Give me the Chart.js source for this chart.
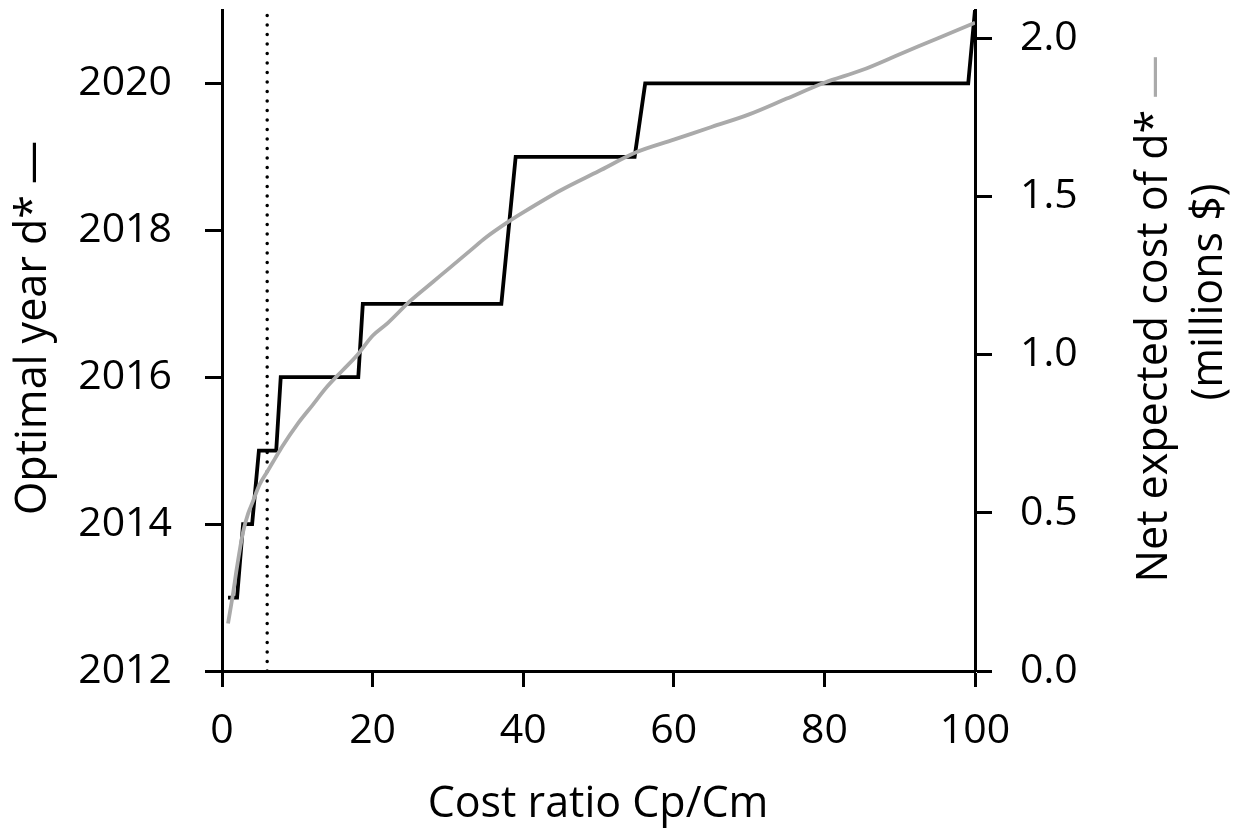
<!DOCTYPE html>
<html>
<head>
<meta charset="utf-8">
<script src="https://cdn.jsdelivr.net/npm/chart.js@4/dist/chart.umd.min.js"></script>
<style>
  html, body { margin: 0; padding: 0; background: #fff; }
  canvas { display: block; }
</style>
</head>
<body>
<canvas id="chart" width="1241" height="834"></canvas>
<script>
// black step line: optimal year d* (left axis)
var stepX = [0.8, 2.0, 2.8, 4.0, 4.9, 7.2, 7.8, 18.1, 18.7, 37.1, 39.0, 54.8, 56.2, 99.1, 100];
var stepYear = [2013, 2013, 2014, 2014, 2015, 2015, 2016, 2016, 2017, 2017, 2019, 2019, 2020, 2020, 2021];

// grey curve: net expected cost of d*, millions $ (right axis)
var costX = [0.8, 1.5, 2.0, 2.8, 3.5, 4.0, 5.0, 6.0, 7.0, 8.0, 10, 12, 14, 16, 18, 20, 22, 25, 28, 30, 33, 35, 38, 40, 45, 50, 55, 60, 65, 70, 75, 80, 85, 90, 95, 100];
var costVal = [0.15, 0.25, 0.33, 0.44, 0.50, 0.53, 0.59, 0.63, 0.67, 0.71, 0.78, 0.84, 0.90, 0.95, 1.00, 1.06, 1.10, 1.17, 1.23, 1.27, 1.33, 1.37, 1.42, 1.45, 1.52, 1.58, 1.64, 1.68, 1.72, 1.76, 1.81, 1.86, 1.90, 1.95, 2.00, 2.05];

// dotted reference line
var refX = [6, 6];
var refYear = [2012, 2021];

var xTicks = [0, 20, 40, 60, 80, 100];
var yearTicks = [2012, 2014, 2016, 2018, 2020];
var costTicks = [0.0, 0.5, 1.0, 1.5, 2.0];

var fontName = '"Open Sans", "DejaVu Sans", sans-serif';
var grey = '#aaaaaa';

function toPoints(xs, ys) {
    var pts = [];
    for (var i = 0; i < xs.length; i++) pts.push({ x: xs[i], y: ys[i] });
    return pts;
}

function keepTicks(list) {
    return function (scale) {
        scale.ticks = list.map(function (v) { return { value: v }; });
    };
}

// fixed box sizes, no extra room for the end labels
function fixSize(w, h) {
    return function (s) {
        if (w) s.width = w;
        if (h) s.height = h;
        s.paddingTop = 0;
        s.paddingBottom = 0;
        s.paddingLeft = 0;
        s.paddingRight = 0;
    };
}

var titlePlugin = {
    id: 'titles',
    afterDraw: function (chart) {
        var ctx = chart.ctx;
        ctx.save();
        ctx.font = '43px ' + fontName;
        ctx.fillStyle = '#000';
        ctx.textBaseline = 'alphabetic';

        // bottom
        ctx.textAlign = 'center';
        ctx.fillText('Cost ratio Cp/Cm', 598, 817);

        // left
        ctx.save();
        ctx.translate(46, 328);
        ctx.rotate(-Math.PI / 2);
        ctx.fillText('Optimal year d* \u2014', 0, 0);
        ctx.restore();

        // right, first line with a grey dash
        var t1 = 'Net expected cost of d* ';
        var w1 = ctx.measureText(t1).width;
        var w2 = ctx.measureText('\u2014').width;
        ctx.save();
        ctx.translate(1167, 319);
        ctx.rotate(-Math.PI / 2);
        ctx.textAlign = 'left';
        ctx.fillText(t1, -(w1 + w2) / 2, 0);
        ctx.fillStyle = grey;
        ctx.fillText('\u2014', -(w1 + w2) / 2 + w1, 0);
        ctx.restore();

        // right, second line
        ctx.save();
        ctx.translate(1222, 292);
        ctx.rotate(-Math.PI / 2);
        ctx.textAlign = 'center';
        ctx.fillText('(millions $)', 0, 0);
        ctx.restore();

        ctx.restore();
    }
};

var tickFont = { family: fontName, size: 41 };

new Chart(document.getElementById('chart'), {
    type: 'line',
    data: {
        datasets: [{
            label: 'cost',
            data: toPoints(costX, costVal),
            yAxisID: 'y2',
            borderColor: grey,
            borderWidth: 3.8,
            pointRadius: 0,
            tension: 0.3,
            cubicInterpolationMode: 'monotone',
            order: 0
        }, {
            label: 'year',
            data: toPoints(stepX, stepYear),
            yAxisID: 'y',
            borderColor: '#000',
            borderWidth: 3.8,
            pointRadius: 0,
            tension: 0,
            order: 1
        }, {
            label: 'ref',
            data: toPoints(refX, refYear),
            yAxisID: 'y',
            borderColor: '#000',
            borderWidth: 3.5,
            borderDash: [0.1, 9.4],
            borderCapStyle: 'round',
            pointRadius: 0,
            order: 2
        }]
    },
    options: {
        responsive: false,
        animation: false,
        layout: { padding: { top: 10, left: 0, right: 0, bottom: 0 } },
        plugins: { legend: { display: false }, tooltip: { enabled: false } },
        scales: {
            x: {
                type: 'linear',
                min: 0,
                max: 100,
                afterBuildTicks: keepTicks(xTicks),
                afterFit: fixSize(0, 163),
                border: { color: '#000', width: 3 },
                grid: { drawOnChartArea: false, color: '#000', tickLength: 16, tickWidth: 3 },
                ticks: { color: '#000', font: tickFont, padding: 20, maxRotation: 0 }
            },
            y: {
                position: 'left',
                min: 2012,
                max: 2021,
                afterBuildTicks: keepTicks(yearTicks),
                afterFit: fixSize(222, 0),
                border: { color: '#000', width: 3 },
                grid: { drawOnChartArea: false, color: '#000', tickLength: 17, tickWidth: 3 },
                ticks: {
                    color: '#000', font: tickFont, padding: 33,
                    callback: function (v) { return String(v); }
                }
            },
            y2: {
                position: 'right',
                min: 0,
                max: 2.09,
                afterBuildTicks: keepTicks(costTicks),
                afterFit: fixSize(266, 0),
                border: { color: '#000', width: 3 },
                grid: { drawOnChartArea: false, color: '#000', tickLength: 17, tickWidth: 3 },
                ticks: {
                    color: '#000', font: tickFont, padding: 28,
                    callback: function (v) { return Number(v).toFixed(1); }
                }
            }
        }
    },
    plugins: [titlePlugin]
});
</script>
</body>
</html>
